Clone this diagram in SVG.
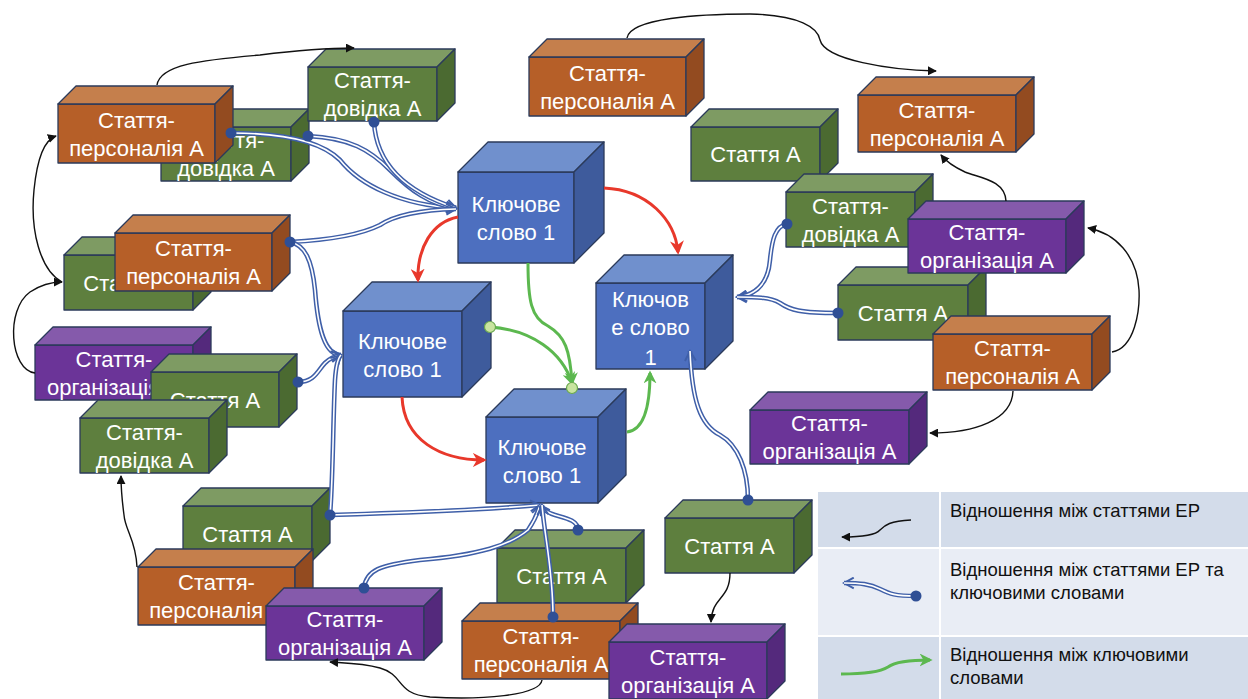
<svg xmlns="http://www.w3.org/2000/svg" width="1248" height="699" viewBox="0 0 1248 699">
<style>
.front,.top,.side{stroke:#2b3a5a;stroke-width:1.3;stroke-linejoin:round}
.orange .front{fill:#b65f28}.orange .top{fill:#c57f4c}.orange .side{fill:#934b20}
.green .front{fill:#5e7f3e}.green .top{fill:#7e9b63}.green .side{fill:#4b6a31}
.purple .front{fill:#6b3498}.purple .top{fill:#855aab}.purple .side{fill:#54297c}
.kw .front{fill:#4d6fbf}.kw .top{fill:#7090cd}.kw .side{fill:#3e5b9c}
.lbl{font-family:"Liberation Sans",Arial,sans-serif;font-size:22px;fill:#ffffff;text-anchor:middle}
.leg{font-family:"Liberation Sans",Arial,sans-serif;font-size:18.5px;fill:#111111}
.blk{fill:none;stroke:#111111;stroke-width:1.4;marker-end:url(#ab)}
.red{fill:none;stroke:#e8382b;stroke-width:3;marker-end:url(#ar)}
.grn{fill:none;stroke:#5cb84f;stroke-width:3;marker-end:url(#ag)}
.kout{fill:none;stroke:#3f5fa8;stroke-width:4.6;marker-end:url(#akb)}
.kin{fill:none;stroke:#ffffff;stroke-width:1.6}
.dot{fill:#2f4f95}
.gdot{fill:#c9e4a0;stroke:#6aa84f;stroke-width:1.2}
</style>
<defs>
<marker id="ab" viewBox="0 0 10 10" refX="9" refY="5" markerWidth="9" markerHeight="9" markerUnits="userSpaceOnUse" orient="auto"><path d="M0,0 L10,5 L0,10 z" fill="#111111"/></marker>
<marker id="ar" viewBox="0 0 10 10" refX="8" refY="5" markerWidth="14" markerHeight="14" markerUnits="userSpaceOnUse" orient="auto"><path d="M0,0 L10,5 L0,10 L3,5 z" fill="#e8382b"/></marker>
<marker id="ag" viewBox="0 0 10 10" refX="8" refY="5" markerWidth="13" markerHeight="13" markerUnits="userSpaceOnUse" orient="auto"><path d="M0,0 L10,5 L0,10 L3,5 z" fill="#5cb84f"/></marker>
<marker id="akb" viewBox="0 0 12 12" refX="10" refY="6" markerWidth="13" markerHeight="13" markerUnits="userSpaceOnUse" orient="auto"><path d="M1,1 L10,6 L1,11" fill="none" stroke="#3f5fa8" stroke-width="1.8"/></marker>
</defs>
<rect width="1248" height="699" fill="#ffffff"/>

<g id="nodes">
<g id="g1" class="green"><rect class="front" x="161" y="127" width="130" height="54"/><polygon class="top" points="161,127 179,109 309,109 291,127"/><polygon class="side" points="291,127 309,109 309,163 291,181"/><text class="lbl" x="226" y="147.5">Стаття-</text><text class="lbl" x="226" y="175.5">довідка А</text></g>
<g id="o1" class="orange"><rect class="front" x="58" y="104" width="157" height="59"/><polygon class="top" points="58,104 76,86 233,86 215,104"/><polygon class="side" points="215,104 233,86 233,145 215,163"/><text class="lbl" x="136.5" y="127.5">Стаття-</text><text class="lbl" x="136.5" y="155.5">персоналія А</text></g>
<g id="g2" class="green"><rect class="front" x="308" y="67" width="129" height="54"/><polygon class="top" points="308,67 326,49 455,49 437,67"/><polygon class="side" points="437,67 455,49 455,103 437,121"/><text class="lbl" x="372.5" y="88">Стаття-</text><text class="lbl" x="372.5" y="116">довідка А</text></g>
<g id="o3" class="orange"><rect class="front" x="529" y="57" width="157" height="59"/><polygon class="top" points="529,57 547,39 704,39 686,57"/><polygon class="side" points="686,57 704,39 704,98 686,116"/><text class="lbl" x="607.5" y="80.5">Стаття-</text><text class="lbl" x="607.5" y="108.5">персоналія А</text></g>
<g id="o4" class="orange"><rect class="front" x="858" y="95" width="158" height="57"/><polygon class="top" points="858,95 876,77 1034,77 1016,95"/><polygon class="side" points="1016,95 1034,77 1034,134 1016,152"/><text class="lbl" x="937" y="117.5">Стаття-</text><text class="lbl" x="937" y="145.5">персоналія А</text></g>
<g id="g6" class="green"><rect class="front" x="691" y="127" width="129" height="54"/><polygon class="top" points="691,127 709,109 838,109 820,127"/><polygon class="side" points="820,127 838,109 838,163 820,181"/><text class="lbl" x="755.5" y="162">Стаття А</text></g>
<g id="g7" class="green"><rect class="front" x="786" y="192" width="129" height="55"/><polygon class="top" points="786,192 804,174 933,174 915,192"/><polygon class="side" points="915,192 933,174 933,229 915,247"/><text class="lbl" x="850.5" y="213.5">Стаття-</text><text class="lbl" x="850.5" y="241.5">довідка А</text></g>
<g id="g8" class="green"><rect class="front" x="838" y="285" width="130" height="55"/><polygon class="top" points="838,285 856,267 986,267 968,285"/><polygon class="side" points="968,285 986,267 986,322 968,340"/><text class="lbl" x="903" y="320.5">Стаття А</text></g>
<g id="p2" class="purple"><rect class="front" x="908" y="219" width="158" height="54"/><polygon class="top" points="908,219 926,201 1084,201 1066,219"/><polygon class="side" points="1066,219 1084,201 1084,255 1066,273"/><text class="lbl" x="987" y="240">Стаття-</text><text class="lbl" x="987" y="268">організація А</text></g>
<g id="o5" class="orange"><rect class="front" x="933" y="334" width="159" height="56"/><polygon class="top" points="933,334 951,316 1110,316 1092,334"/><polygon class="side" points="1092,334 1110,316 1110,372 1092,390"/><text class="lbl" x="1012.5" y="356">Стаття-</text><text class="lbl" x="1012.5" y="384">персоналія А</text></g>
<g id="p3" class="purple"><rect class="front" x="750" y="410" width="159" height="54"/><polygon class="top" points="750,410 768,392 927,392 909,410"/><polygon class="side" points="909,410 927,392 927,446 909,464"/><text class="lbl" x="829.5" y="431">Стаття-</text><text class="lbl" x="829.5" y="459">організація А</text></g>
<g id="g3" class="green"><rect class="front" x="64" y="255" width="129" height="55"/><polygon class="top" points="64,255 82,237 211,237 193,255"/><polygon class="side" points="193,255 211,237 211,292 193,310"/><text class="lbl" x="128.5" y="290.5">Стаття А</text></g>
<g id="o2" class="orange"><rect class="front" x="115" y="233" width="157" height="58"/><polygon class="top" points="115,233 133,215 290,215 272,233"/><polygon class="side" points="272,233 290,215 290,273 272,291"/><text class="lbl" x="193.5" y="256">Стаття-</text><text class="lbl" x="193.5" y="284">персоналія А</text></g>
<g id="p1" class="purple"><rect class="front" x="35" y="345" width="158" height="55"/><polygon class="top" points="35,345 53,327 211,327 193,345"/><polygon class="side" points="193,345 211,327 211,382 193,400"/><text class="lbl" x="114" y="366.5">Стаття-</text><text class="lbl" x="114" y="394.5">організація А</text></g>
<g id="g4" class="green"><rect class="front" x="151" y="372" width="128" height="55"/><polygon class="top" points="151,372 169,354 297,354 279,372"/><polygon class="side" points="279,372 297,354 297,409 279,427"/><text class="lbl" x="215" y="407.5">Стаття А</text></g>
<g id="g5" class="green"><rect class="front" x="80" y="418" width="129" height="55"/><polygon class="top" points="80,418 98,400 227,400 209,418"/><polygon class="side" points="209,418 227,400 227,455 209,473"/><text class="lbl" x="144.5" y="439.5">Стаття-</text><text class="lbl" x="144.5" y="467.5">довідка А</text></g>
<g id="g9" class="green"><rect class="front" x="183" y="506" width="129" height="55"/><polygon class="top" points="183,506 201,488 330,488 312,506"/><polygon class="side" points="312,506 330,488 330,543 312,561"/><text class="lbl" x="247.5" y="541.5">Стаття А</text></g>
<g id="o6" class="orange"><rect class="front" x="138" y="567" width="157" height="58"/><polygon class="top" points="138,567 156,549 313,549 295,567"/><polygon class="side" points="295,567 313,549 313,607 295,625"/><text class="lbl" x="216.5" y="590">Стаття-</text><text class="lbl" x="216.5" y="618">персоналія А</text></g>
<g id="p5" class="purple"><rect class="front" x="266" y="606" width="158" height="54"/><polygon class="top" points="266,606 284,588 442,588 424,606"/><polygon class="side" points="424,606 442,588 442,642 424,660"/><text class="lbl" x="345" y="627">Стаття-</text><text class="lbl" x="345" y="655">організація А</text></g>
<g id="g11" class="green"><rect class="front" x="665" y="518" width="129" height="55"/><polygon class="top" points="665,518 683,500 812,500 794,518"/><polygon class="side" points="794,518 812,500 812,555 794,573"/><text class="lbl" x="729.5" y="553.5">Стаття А</text></g>
<g id="g10" class="green"><rect class="front" x="497" y="548" width="129" height="55"/><polygon class="top" points="497,548 515,530 644,530 626,548"/><polygon class="side" points="626,548 644,530 644,585 626,603"/><text class="lbl" x="561.5" y="583.5">Стаття А</text></g>
<g id="o7" class="orange"><rect class="front" x="462" y="621" width="158" height="58"/><polygon class="top" points="462,621 480,603 638,603 620,621"/><polygon class="side" points="620,621 638,603 638,661 620,679"/><text class="lbl" x="541" y="644">Стаття-</text><text class="lbl" x="541" y="672">персоналія А</text></g>
<g id="p4" class="purple"><rect class="front" x="609" y="642" width="158" height="57"/><polygon class="top" points="609,642 627,624 785,624 767,642"/><polygon class="side" points="767,642 785,624 785,681 767,699"/><text class="lbl" x="688" y="664.5">Стаття-</text><text class="lbl" x="688" y="692.5">організація А</text></g>
<g id="k1" class="kw"><rect class="front" x="458" y="172" width="116" height="91"/><polygon class="top" points="458,172 488,142 604,142 574,172"/><polygon class="side" points="574,172 604,142 604,233 574,263"/><text class="lbl" x="516" y="212">Ключове</text><text class="lbl" x="516" y="240">слово 1</text></g>
<g id="k2" class="kw"><rect class="front" x="343" y="311" width="119" height="86"/><polygon class="top" points="343,311 372,282 491,282 462,311"/><polygon class="side" points="462,311 491,282 491,368 462,397"/><text class="lbl" x="402.5" y="349">Ключове</text><text class="lbl" x="402.5" y="377">слово 1</text></g>
<g id="k3" class="kw"><rect class="front" x="486" y="417" width="112" height="86"/><polygon class="top" points="486,417 514,389 626,389 598,417"/><polygon class="side" points="598,417 626,389 626,475 598,503"/><text class="lbl" x="542" y="455">Ключове</text><text class="lbl" x="542" y="483">слово 1</text></g>
<g id="k4" class="kw"><rect class="front" x="596" y="283" width="109" height="86"/><polygon class="top" points="596,283 624,255 733,255 705,283"/><polygon class="side" points="705,283 733,255 733,341 705,369"/><text class="lbl" x="650.5" y="307">Ключов</text><text class="lbl" x="650.5" y="335">е слово</text><text class="lbl" x="650.5" y="365">1</text></g>
</g>

<g id="connectors">
<path class="blk" d="M157,85 C160,65 200,60 260,55 C300,50 330,48 354,48"/>
<path class="blk" d="M627,38 C630,18 700,14 750,14 C800,15 818,28 820,40 C825,60 890,70 936,71"/>
<path class="blk" d="M1006,201 C1005,180 980,178 965,172 C952,166 945,160 941,155"/>
<path class="blk" d="M1112,352 C1135,348 1140,310 1139,290 C1137,255 1115,233 1088,228"/>
<path class="blk" d="M1013,391 C1012,420 975,433 930,433"/>
<path class="blk" d="M62,282 C40,270 30,230 34,190 C37,160 44,140 56,136"/>
<path class="blk" d="M35,373 C10,370 5,310 30,292 C42,284 52,282 62,282"/>
<path class="blk" d="M137,567 C136,540 125,530 124,515 C122,500 121,490 121,476"/>
<path class="blk" d="M542,680 C540,696 480,700 430,697 C395,694 405,675 380,668 C362,663 345,663 330,662"/>
<path class="blk" d="M730,573 C730,600 712,596 711,622"/>

<path class="kout" d="M231,133 C280,133 320,140 340,160 C360,185 400,205 456,208"/><path class="kin" d="M231,133 C280,133 320,140 340,160 C360,185 400,205 456,208"/>
<path class="kout" d="M308,136 C350,138 370,150 390,170 C410,190 430,205 456,208"/><path class="kin" d="M308,136 C350,138 370,150 390,170 C410,190 430,205 456,208"/>
<path class="kout" d="M374,122 C376,160 400,190 456,208"/><path class="kin" d="M374,122 C376,160 400,190 456,208"/>
<path class="kout" d="M290,242 C330,240 360,235 380,225 C395,215 420,210 456,209"/><path class="kin" d="M290,242 C330,240 360,235 380,225 C395,215 420,210 456,209"/>
<path class="kout" d="M290,242 C305,245 312,260 315,290 C318,330 325,355 341,355"/><path class="kin" d="M290,242 C305,245 312,260 315,290 C318,330 325,355 341,355"/>
<path class="kout" d="M298,382 C315,382 318,370 325,363 C330,358 335,356 341,355"/><path class="kin" d="M298,382 C315,382 318,370 325,363 C330,358 335,356 341,355"/>
<path class="kout" d="M330,515 C333,480 333,420 335,380 C336,365 338,358 341,355"/><path class="kin" d="M330,515 C333,480 333,420 335,380 C336,365 338,358 341,355"/>
<path class="kout" d="M330,515 C400,513 480,510 540,505"/><path class="kin" d="M330,515 C400,513 480,510 540,505"/>
<path class="kout" d="M364,588 C366,570 380,565 420,560 C480,555 510,545 528,530 C535,520 538,512 540,505"/><path class="kin" d="M364,588 C366,570 380,565 420,560 C480,555 510,545 528,530 C535,520 538,512 540,505"/>
<path class="kout" d="M578,530 C578,520 565,518 555,515 C545,512 542,508 540,505"/><path class="kin" d="M578,530 C578,520 565,518 555,515 C545,512 542,508 540,505"/>
<path class="kout" d="M553,617 C553,570 545,540 542,505"/><path class="kin" d="M553,617 C553,570 545,540 542,505"/>
<path class="kout" d="M787,224 C775,226 772,240 770,260 C768,285 755,295 737,297"/><path class="kin" d="M787,224 C775,226 772,240 770,260 C768,285 755,295 737,297"/>
<path class="kout" d="M838,313 C800,313 790,310 780,303 C770,297 755,297 737,297"/><path class="kin" d="M838,313 C800,313 790,310 780,303 C770,297 755,297 737,297"/>
<path class="kout" d="M748,500 C748,470 738,445 720,435 C700,425 692,400 690,351"/><path class="kin" d="M748,500 C748,470 738,445 720,435 C700,425 692,400 690,351"/>
<circle class="dot" cx="231" cy="133" r="5.5"/><circle class="dot" cx="308" cy="136" r="5.5"/><circle class="dot" cx="374" cy="122" r="5.5"/><circle class="dot" cx="290" cy="242" r="5.5"/><circle class="dot" cx="298" cy="382" r="5.5"/><circle class="dot" cx="330" cy="515" r="5.5"/><circle class="dot" cx="364" cy="588" r="5.5"/><circle class="dot" cx="578" cy="530" r="5.5"/><circle class="dot" cx="553" cy="617" r="5.5"/><circle class="dot" cx="787" cy="224" r="5.5"/><circle class="dot" cx="838" cy="313" r="5.5"/><circle class="dot" cx="748" cy="500" r="5.5"/>

<path class="red" d="M458,217 C432,222 417,248 418,280"/>
<path class="red" d="M604,188 C648,190 675,220 678,252"/>
<path class="red" d="M402,397 C404,440 440,460 484,460"/>
<path class="grn" d="M528,263 C528,300 531,318 548,326 C565,336 570,350 572,383"/>
<path class="grn" d="M490,327 C532,330 562,352 572,383"/>
<path class="grn" d="M627,432 C645,430 650,405 650,373"/>
<circle class="gdot" cx="490" cy="327" r="5.5"/><circle class="gdot" cx="572" cy="388" r="5.5"/>
</g>

<g id="legend">
<rect x="818" y="492" width="430" height="56" fill="#d3dcea"/>
<rect x="818" y="548" width="430" height="88" fill="#e9edf5"/>
<rect x="818" y="636" width="430" height="63" fill="#d3dcea"/>
<line x1="818" y1="548" x2="1248" y2="548" stroke="#ffffff" stroke-width="2"/>
<line x1="818" y1="636" x2="1248" y2="636" stroke="#ffffff" stroke-width="2"/>
<line x1="940" y1="492" x2="940" y2="699" stroke="#ffffff" stroke-width="2"/>
<path class="blk" d="M911,520 C890,521 885,525 880,530 C875,536 860,537 842,537"/>
<path class="kout" d="M916,596 C895,596 890,594 880,589 C870,584 860,583 844,583"/><path class="kin" d="M916,596 C895,596 890,594 880,589 C870,584 860,583 844,583"/>
<circle class="dot" cx="916" cy="596" r="5.5"/>
<path class="grn" d="M841,674 C865,674 880,672 888,667 C895,662 910,660 930,660"/>
<text class="leg" x="950" y="516.5">Відношення між статтями ЕР</text>
<text class="leg" x="950" y="575.5">Відношення між статтями ЕР та</text>
<text class="leg" x="950" y="598.5">ключовими словами</text>
<text class="leg" x="950" y="660.5">Відношення між ключовими</text>
<text class="leg" x="950" y="683.5">словами</text>
</g>
</svg>
